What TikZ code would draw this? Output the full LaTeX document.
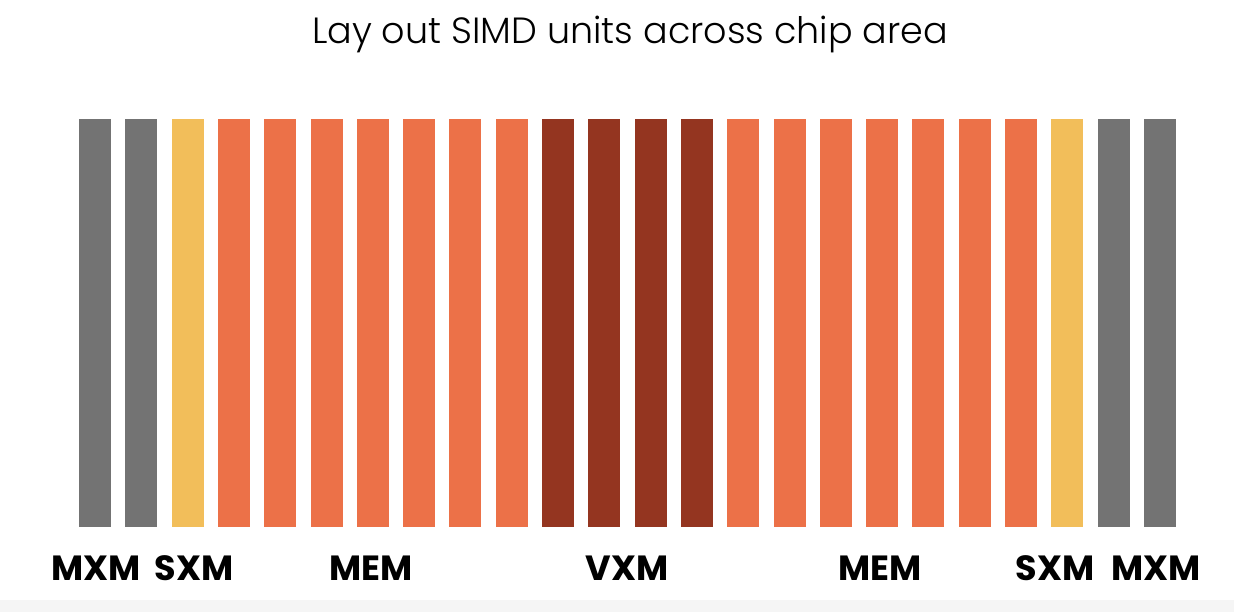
\documentclass[tikz,border=0pt]{standalone}
\usepackage{fontspec}
\setmainfont{Poppins}
\newfontfamily\titlefont{Poppins Light}
\usepackage{xcolor}
\usepackage{tikz}
\usetikzlibrary{positioning}

\definecolor{mxmgrey}{HTML}{737373}
\definecolor{sxmyellow}{HTML}{F2BE5A}
\definecolor{memorange}{HTML}{EC7148}
\definecolor{vxmred}{HTML}{943520}
\definecolor{footgrey}{HTML}{F5F5F5}

\begin{document}
\begin{tikzpicture}[
  x=1pt, y=-1pt,
  node distance=14.3pt,
  bar/.style={rectangle, inner sep=0pt, outer sep=0pt, minimum width=32pt, minimum height=408pt},
  mxm/.style={bar, fill=mxmgrey},
  sxm/.style={bar, fill=sxmyellow},
  mem/.style={bar, fill=memorange},
  vxm/.style={bar, fill=vxmred},
  unitlabel/.style={anchor=base, inner sep=0pt, font=\fontsize{35}{40}\selectfont\bfseries},
  title/.style={anchor=base, inner sep=0pt, font=\titlefont\fontsize{36.5}{42}\selectfont}
]
\useasboundingbox (0,0) rectangle (1234,612);
\fill[footgrey] (0,600) rectangle (1234,612);

\node[title] (head) at (630,44) {Lay out SIMD units across chip area};

% west side
\node[mxm, anchor=north west] (b1) at (79,119) {};
\node[mxm, right=of b1] (b2) {};
\node[sxm, right=of b2] (b3) {};
\node[mem, right=of b3] (b4) {};
\node[mem, right=of b4] (b5) {};
\node[mem, right=of b5] (b6) {};
\node[mem, right=of b6] (b7) {};
\node[mem, right=of b7] (b8) {};
\node[mem, right=of b8] (b9) {};
\node[mem, right=of b9] (b10) {};
% vector units in the middle
\node[vxm, right=of b10] (b11) {};
\node[vxm, right=of b11] (b12) {};
\node[vxm, right=of b12] (b13) {};
\node[vxm, right=of b13] (b14) {};
% east side
\node[mem, right=of b14] (b15) {};
\node[mem, right=of b15] (b16) {};
\node[mem, right=of b16] (b17) {};
\node[mem, right=of b17] (b18) {};
\node[mem, right=of b18] (b19) {};
\node[mem, right=of b19] (b20) {};
\node[mem, right=of b20] (b21) {};
\node[sxm, right=of b21] (b22) {};
\node[mxm, right=of b22] (b23) {};
\node[mxm, right=of b23] (b24) {};

\node[unitlabel] (mxmW) at (96,580) {MXM};
\node[unitlabel] (sxmW) at (194,580) {SXM};
\node[unitlabel] (memW) at (371,580) {MEM};
\node[unitlabel] (vxmC) at (627,580) {VXM};
\node[unitlabel] (memE) at (880,580) {MEM};
\node[unitlabel] (sxmE) at (1055,580) {SXM};
\node[unitlabel] (mxmE) at (1156,580) {MXM};
\end{tikzpicture}
\end{document}
